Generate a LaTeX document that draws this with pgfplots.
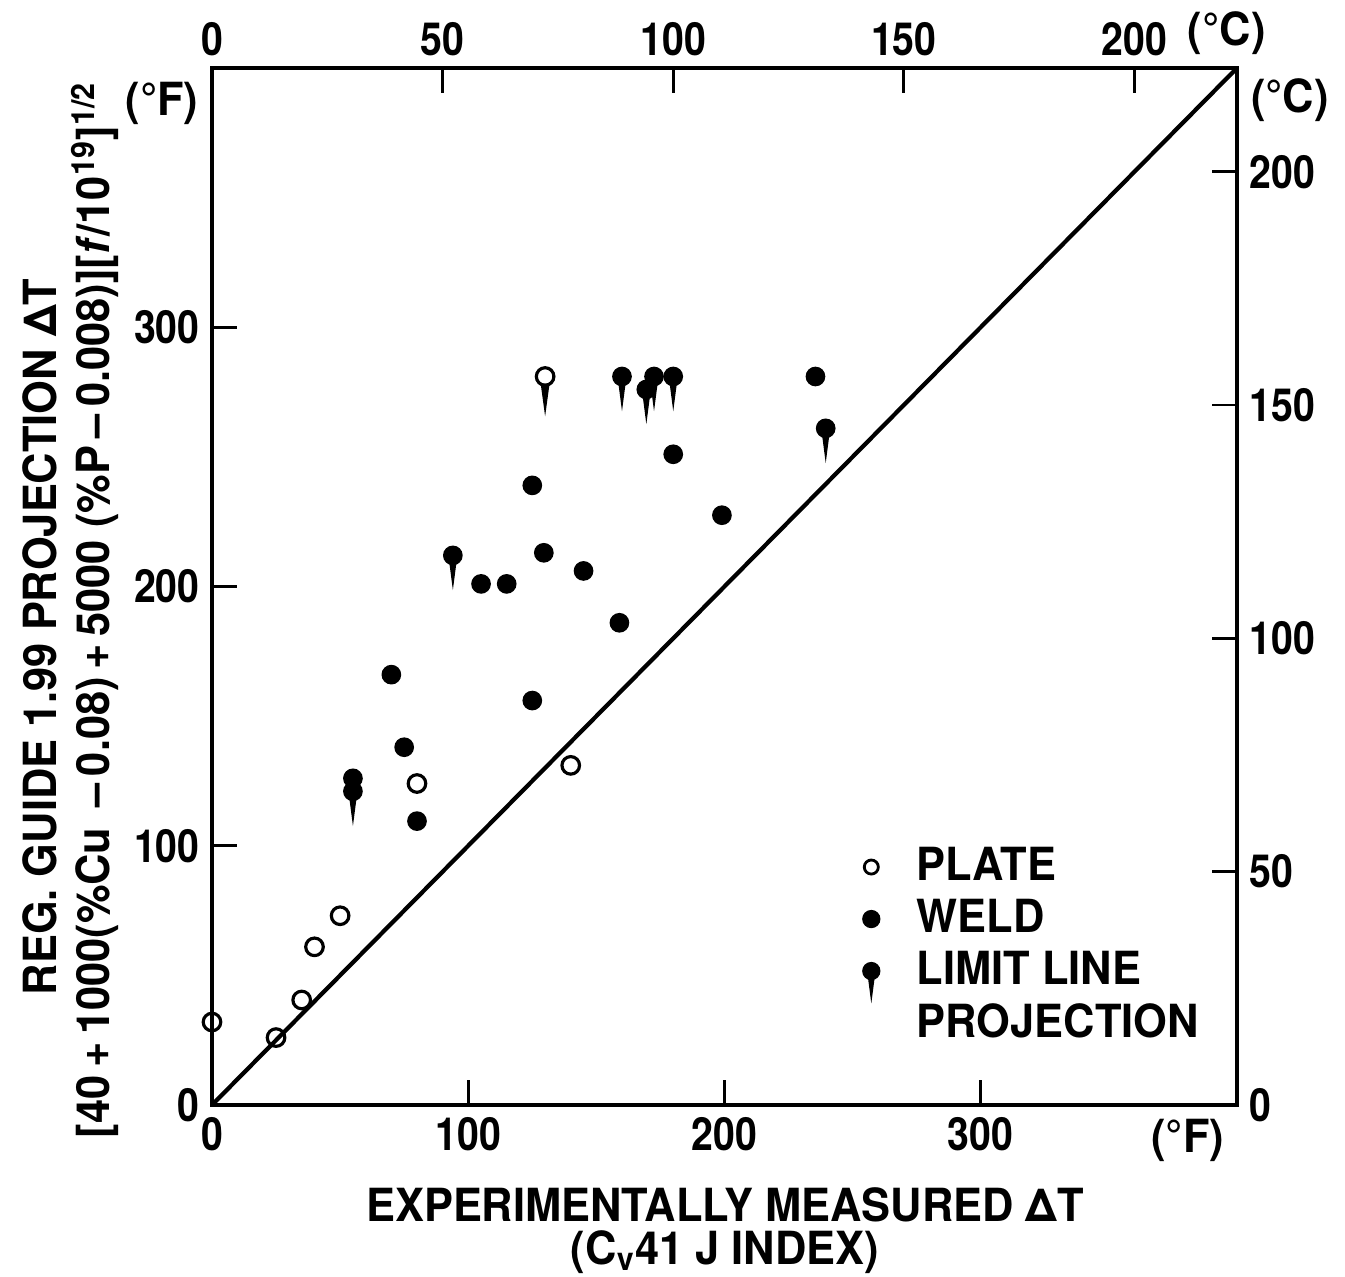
\documentclass[border=0pt]{standalone}
\usepackage{fontspec}
\setmainfont{TeX Gyre Heros}[FakeStretch=0.95]
\newfontfamily\numfont{TeX Gyre Heros}[FakeStretch=0.86]
\usepackage{pgfplots}
\pgfplotsset{compat=1.18}

% filled circle with a downward tail (limit line projection)
\pgfdeclareplotmark{limitf}{%
  \pgfpathmoveto{\pgfqpoint{-0.35\pgfplotmarksize}{-0.5\pgfplotmarksize}}%
  \pgfpathlineto{\pgfqpoint{0.35\pgfplotmarksize}{-0.5\pgfplotmarksize}}%
  \pgfpathlineto{\pgfqpoint{0pt}{-3.2\pgfplotmarksize}}%
  \pgfpathclose
  \pgfusepathqfillstroke
  \pgfpathcircle{\pgfpointorigin}{\pgfplotmarksize}%
  \pgfusepathqfillstroke}
% open circle with a downward tail
\pgfdeclareplotmark{limito}{%
  \pgfpathmoveto{\pgfqpoint{-0.3\pgfplotmarksize}{-1\pgfplotmarksize}}%
  \pgfpathlineto{\pgfqpoint{0.3\pgfplotmarksize}{-1\pgfplotmarksize}}%
  \pgfpathlineto{\pgfqpoint{0pt}{-3.2\pgfplotmarksize}}%
  \pgfpathclose
  \pgfusepathqfillstroke
  \pgfpathcircle{\pgfpointorigin}{\pgfplotmarksize}%
  \pgfusepathqstroke}

\newcommand{\lab}{\bfseries\fontsize{13}{15}\selectfont}

\begin{document}
\begin{tikzpicture}
\pgfplotsset{frame/.style={
  scale only axis, width=10.25cm, height=10.37cm,
  tick align=inside, major tick length=0.25cm,
  every tick/.style={black, line width=0.8pt},
  axis line style={line width=1.2pt},
  ticklabel style={font=\numfont\bfseries\fontsize{13}{15}\selectfont},
  /pgf/number format/assume math mode=true,
  clip=false}}
\begin{axis}[frame,
  xmin=0, xmax=400, ymin=0, ymax=400,
  xtick={0,100,200,300}, ytick={0,100,200,300},
  xtick pos=lower, ytick pos=left,
  legend style={draw=none, fill=none, at={(rel axis cs:0.603,0.262)}, anchor=north west,
    font=\lab, row sep=0pt, column sep=0.3cm, legend cell align=left,
    nodes={text height=0.31cm, text depth=0.04cm, inner ysep=0.085cm}},
]
% 1:1 line
\addplot[line width=1.2pt, forget plot] coordinates {(0,0) (400,400)};
% plate
\addplot[only marks, mark=o, mark size=2.5pt, forget plot, mark options={line width=0.9pt, draw=black}]
  coordinates {(0,32) (25,26) (35,40.5) (40,61) (50,73) (80,124) (140,131)};
% weld
\addplot[only marks, mark=*, mark size=2.6pt, forget plot, mark options={draw=black, fill=black}]
  coordinates {(55,126) (70,166) (75,138) (80,109.5) (105,201) (115,201)
    (125,239) (125,156) (129.5,213) (145,206) (159,186) (180,251) (199,227.5) (235.5,281)};
% limit line projection (weld)
\addplot[only marks, mark=limitf, mark size=2.6pt, forget plot, mark options={draw=black, fill=black}]
  coordinates {(55,121) (94,212) (160,281) (169.5,276) (172.5,281) (180,281) (239.5,261)};
% limit line projection (plate)
\addplot[only marks, mark=limito, mark size=2.5pt, forget plot,
  mark options={draw=black, fill=black, line width=0.9pt}]
  coordinates {(130,281)};

\addlegendimage{only marks, mark=o, mark size=2pt, mark options={line width=0.8pt, draw=black}}
\addlegendimage{only marks, mark=*, mark size=2.4pt, mark options={draw=black, fill=black}}
\addlegendimage{only marks, mark=limitf, mark size=2.4pt, mark options={draw=black, fill=black}}
\addlegendimage{empty legend}
\legend{PLATE, WELD, LIMIT LINE, PROJECTION}

\node[rotate=90, font=\lab] at (rel axis cs:-0.1678,0.4513) {REG. GUIDE 1.99 PROJECTION ΔT};
\node[rotate=90, font=\lab] at (rel axis cs:-0.1141,0.4773)
  {[40\,+\,1000(\%Cu \,–\,0.08)\,+\,5000 (\%P\,–\,0.008)][\textit{f}/10\textsuperscript{19}]\textsuperscript{1/2}};
\node[font=\lab] at (rel axis cs:0.5005,-0.0964) {EXPERIMENTALLY MEASURED ΔT};
\node[font=\lab] at (rel axis cs:0.5005,-0.1418) {(C\textsubscript{v}41 J INDEX)};
\node[font=\lab] at (rel axis cs:0.952,-0.0338) {(°F)};
\node[font=\lab] at (rel axis cs:-0.0488,0.966) {(°F)};
\node[font=\lab] at (rel axis cs:1.0517,0.969) {(°C)};
\node[font=\lab] at (rel axis cs:0.990,1.034) {(°C)};
\end{axis}
\begin{axis}[frame,
  xmin=0, xmax=222.222, ymin=0, ymax=222.222,
  axis x line*=top, axis y line*=right,
  xtick={0,50,100,150,200}, ytick={0,50,100,150,200},
]
\end{axis}
\pgfresetboundingbox
\path[use as bounding box] (-2.12cm,-1.72cm) rectangle (11.33cm,11.05cm);
\end{tikzpicture}
\end{document}
